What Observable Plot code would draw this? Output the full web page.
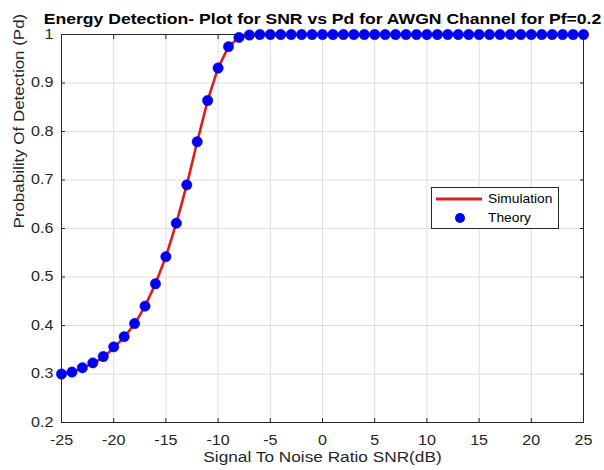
<!DOCTYPE html>
<html>
<head>
<meta charset="utf-8">
<script src="https://cdn.jsdelivr.net/npm/d3@7"></script>
<script src="https://cdn.jsdelivr.net/npm/@observablehq/plot@0.6"></script>
<style>
  html, body { margin: 0; padding: 0; background: #fff; }
  #wrap { position: relative; width: 604px; height: 470px; background: #fff; font-family: "Liberation Sans", Arial, sans-serif; }
  #chart svg { display: block; }
  #legend { position: absolute; left: 431px; top: 187px; }
</style>
</head>
<body>
<div id="wrap">
  <div id="chart"></div>
  <svg id="legend" width="128" height="42"></svg>
</div>
<script>
// ---- data ----
const snr = [-25,-24,-23,-22,-21,-20,-19,-18,-17,-16,-15,-14,-13,-12,-11,-10,-9,-8,-7,-6,-5,-4,-3,-2,-1,0,1,2,3,4,5,6,7,8,9,10,11,12,13,14,15,16,17,18,19,20,21,22,23,24,25];
const theory = [0.300,0.304,0.313,0.323,0.336,0.356,0.377,0.404,0.440,0.486,0.542,0.611,0.690,0.779,0.864,0.931,0.975,0.994,0.999,
  1,1,1,1,1,1,1,1,1,1,1,1,1,1,1,1,1,1,1,1,1,1,1,1,1,1,1,1,1,1,1,1];
const simulation = [0.300,0.304,0.312,0.322,0.334,0.354,0.376,0.403,0.440,0.486,0.542,0.611,0.690,0.779,0.864,0.931,0.975,0.994,0.999,
  1,1,1,1,1,1,1,1,1,1,1,1,1,1,1,1,1,1,1,1,1,1,1,1,1,1,1,1,1,1,1,1];
const xTicks = [-25,-20,-15,-10,-5,0,5,10,15,20,25];
const yTicks = [0.2,0.3,0.4,0.5,0.6,0.7,0.8,0.9,1];
const seriesNames = ["Simulation", "Theory"];
const titleText = "Energy Detection- Plot for SNR vs Pd for AWGN Channel for Pf=0.2";
const xLabel = "Signal To Noise Ratio SNR(dB)";
const yLabel = "Probability Of Detection (Pd)";

// ---- styles ----
const RED = "#e01b1e";
const BLUE = "#0000f0";
const AXIS = "#262626";
const GRID = "#dedede";

const simData = snr.map((x, i) => ({x, y: simulation[i]}));
const thData = snr.map((x, i) => ({x, y: theory[i]}));
const noText = () => "";

const plot = Plot.plot({
  width: 604,
  height: 470,
  marginLeft: 61,
  marginRight: 21,
  marginTop: 34,
  marginBottom: 48,
  style: {fontFamily: '"Liberation Sans", Arial, sans-serif', fontSize: "14px", color: AXIS, background: "#fff"},
  x: {domain: [-25, 25]},
  y: {domain: [0.2, 1]},
  marks: [
    Plot.gridX(xTicks, {stroke: GRID, strokeOpacity: 1}),
    Plot.gridY(yTicks, {stroke: GRID, strokeOpacity: 1}),
    Plot.frame({stroke: AXIS, strokeWidth: 1}),
    // inward ticks on all four sides
    Plot.axisX({ticks: xTicks, anchor: "bottom", tickSize: -4, tickFormat: noText, label: null}),
    Plot.axisX({ticks: xTicks, anchor: "top", tickSize: -4, tickFormat: noText, label: null}),
    Plot.axisY({ticks: yTicks, anchor: "left", tickSize: -4, tickFormat: noText, label: null}),
    Plot.axisY({ticks: yTicks, anchor: "right", tickSize: -4, tickFormat: noText, label: null}),
    // tick labels
    Plot.axisX({ticks: xTicks, anchor: "bottom", tickSize: 0, tickPadding: 13, tickFormat: d => String(d), label: null, fill: AXIS}),
    Plot.axisY({ticks: yTicks, anchor: "left", tickSize: 0, tickPadding: 8, tickFormat: d => d3.format("~g")(d), label: null, fill: AXIS}),
    // data
    Plot.line(simData, {x: "x", y: "y", stroke: RED, strokeWidth: 2.6}),
    Plot.dot(thData, {x: "x", y: "y", r: 5.2, fill: BLUE, stroke: BLUE, strokeWidth: 0.5}),
    // texts
    Plot.text([titleText], {frameAnchor: "top", lineAnchor: "middle", dy: -15.5, fontSize: 15.3, fontWeight: "bold", fill: "#000"}),
    Plot.text([xLabel], {frameAnchor: "bottom", lineAnchor: "middle", dy: 35, fontSize: 15, fill: AXIS}),
    Plot.text([yLabel], {frameAnchor: "left", lineAnchor: "middle", dx: -42, rotate: -90, fontSize: 15, fill: AXIS})
  ]
});
document.getElementById("chart").appendChild(plot);

// horizontal stretch of text to match reference glyph widths
plot.querySelectorAll("text").forEach(t => {
  const tr = t.getAttribute("transform") || "";
  if (tr.includes("rotate")) t.setAttribute("transform", tr + " scale(1.13,1)");
  else t.setAttribute("transform", tr + " scale(1.15,1)");
});

// ---- legend ----
const lg = d3.select("#legend");
lg.append("rect").attr("x", 0.5).attr("y", 0.5).attr("width", 127).attr("height", 41)
  .attr("fill", "#fff").attr("stroke", AXIS).attr("stroke-width", 1);
lg.append("line").attr("x1", 5).attr("x2", 51).attr("y1", 12).attr("y2", 12)
  .attr("stroke", RED).attr("stroke-width", 3);
lg.append("circle").attr("cx", 29).attr("cy", 31).attr("r", 5).attr("fill", BLUE);
[12, 31].forEach((cy, i) => {
  lg.append("text").attr("transform", `translate(57,${cy}) scale(1.15,1)`)
    .attr("dy", "0.35em")
    .attr("font-family", '"Liberation Sans", Arial, sans-serif')
    .attr("font-size", 12).attr("fill", "#000").text(seriesNames[i]);
});
</script>
</body>
</html>
